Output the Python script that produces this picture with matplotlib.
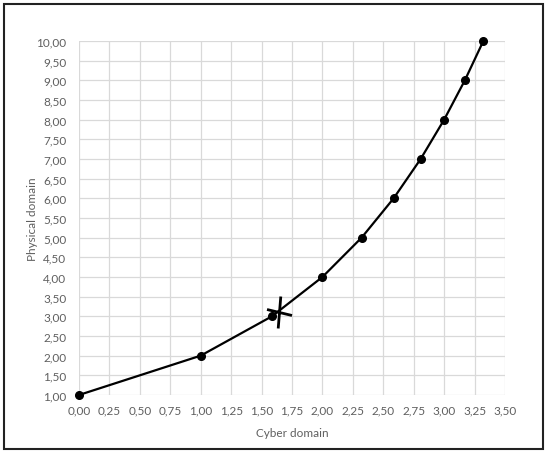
import numpy as np
import matplotlib.pyplot as plt
from matplotlib.path import Path
from matplotlib.patches import Rectangle

# data
cyber = [0.0, 1.0, 1.585, 2.0, 2.322, 2.585, 2.807, 3.0, 3.170, 3.322]
physical = [1, 2, 3, 4, 5, 6, 7, 8, 9, 10]
cross_x = [1.643]
cross_y = [3.10]

x_ticks = np.arange(0, 3.51, 0.25)
y_ticks = np.arange(1, 10.01, 0.5)

plt.rcParams['font.family'] = ['Lato', 'DejaVu Sans']
txt = '#5f5f5f'

fig = plt.figure(figsize=(5.5, 4.56), dpi=100)
ax = fig.add_axes([0.1436, 0.1316, 0.7746, 0.7763])

ax.plot(cyber, physical, color='black', lw=1.6, marker='o', ms=5.5,
        zorder=3, clip_on=False)

# hand drawn cross: a near vertical stroke and a tilted horizontal one
cross = Path([(1.3, 16), (-1.3, -16), (-12.5, 3), (12.5, -3)],
             [Path.MOVETO, Path.LINETO, Path.MOVETO, Path.LINETO])
ax.plot(cross_x, cross_y, linestyle='none', marker=cross, ms=23, mew=2,
        color='black', zorder=4)

ax.set_xlim(0, 3.5)
ax.set_ylim(1, 10)
ax.set_xticks(x_ticks)
ax.set_yticks(y_ticks)
ax.set_xticklabels([('%.2f' % v).replace('.', ',') for v in x_ticks])
ax.set_yticklabels([('%.2f' % v).replace('.', ',') for v in y_ticks])
ax.tick_params(length=0, labelsize=8.5, colors=txt)
ax.tick_params(axis='y', pad=9)
ax.tick_params(axis='x', pad=7)
ax.grid(True, color='#d9d9d9', lw=0.9)
ax.set_axisbelow(True)
for s in ax.spines.values():
    s.set_visible(False)

ax.set_xlabel('Cyber domain', fontsize=8.5, color=txt, labelpad=8)
ax.set_ylabel('Physical domain', fontsize=8.5, color=txt)
ax.yaxis.set_label_coords(-0.096, 0.5)

fig.patches.append(Rectangle((4 / 550, 1 - 450 / 456), 539 / 550, 445 / 456,
                             transform=fig.transFigure, fill=False,
                             edgecolor='#222222', lw=1.5))

fig.savefig('out.png', dpi=100)
